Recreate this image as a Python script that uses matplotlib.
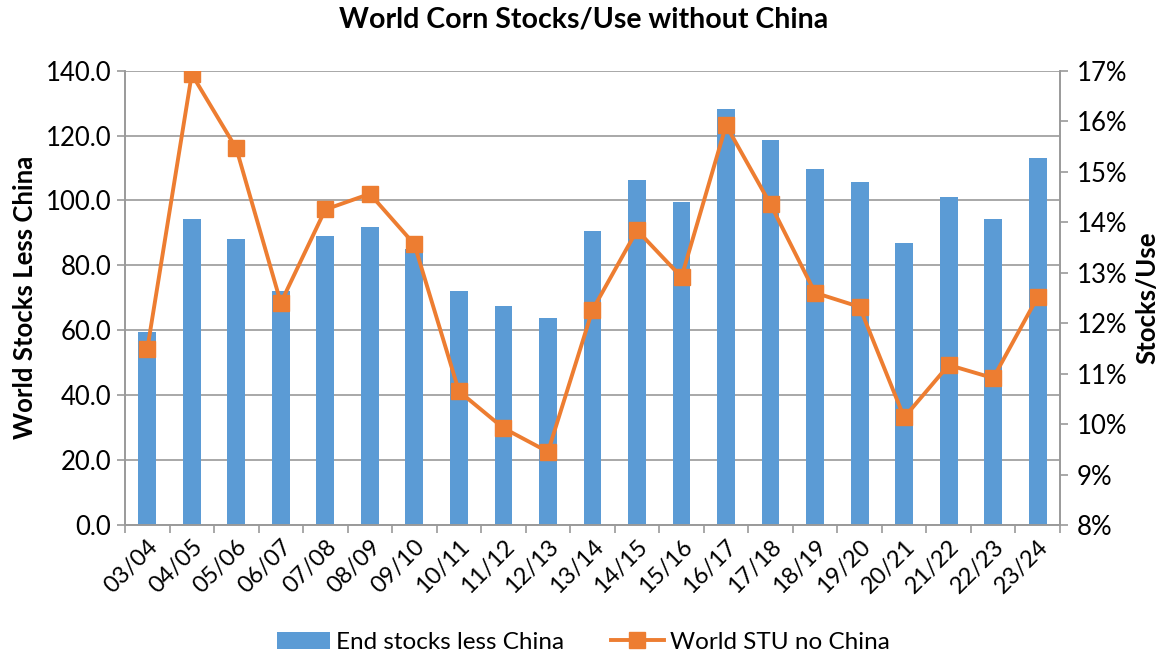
import matplotlib
matplotlib.use("Agg")
import matplotlib.pyplot as plt
from matplotlib.ticker import FuncFormatter, MultipleLocator, FixedLocator

plt.rcParams['font.family'] = ['Lato', 'DejaVu Sans']

seasons = ["03/04", "04/05", "05/06", "06/07", "07/08", "08/09", "09/10",
           "10/11", "11/12", "12/13", "13/14", "14/15", "15/16", "16/17",
           "17/18", "18/19", "19/20", "20/21", "21/22", "22/23", "23/24"]
end_stocks = [59.6, 94.3, 88.0, 72.1, 89.2, 91.7, 85.0,
              72.1, 67.4, 63.7, 90.6, 106.3, 99.6, 128.2,
              118.6, 109.6, 105.6, 86.9, 101.2, 94.3, 113.2]
stu_pct = [11.48, 16.93, 15.46, 12.40, 14.25, 14.56, 13.56,
           10.65, 9.92, 9.45, 12.26, 13.84, 12.91, 15.92,
           14.35, 12.60, 12.32, 10.13, 11.17, 10.91, 12.52]

BLUE = "#5B9BD5"
ORANGE = "#ED7D31"
GRID = "#9A9A9A"

fig = plt.figure(figsize=(11.67, 6.58), dpi=100)
ax = fig.add_axes([0.1071, 0.2021, 0.8012, 0.6905])
ax2 = ax.twinx()

x = list(range(len(seasons)))
bars = ax.bar(x, end_stocks, width=0.4, color=BLUE, zorder=2,
              label="End stocks less China")
line, = ax2.plot(x, stu_pct, color=ORANGE, lw=2.8, marker="s", ms=12,
                 zorder=3, label="World STU no China")

ax.set_xlim(-0.5, len(seasons) - 0.5)
ax.set_ylim(0, 140)
ax.yaxis.set_major_locator(MultipleLocator(20))
ax.yaxis.set_major_formatter(FuncFormatter(lambda v, p: f"{v:.1f}"))
ax.grid(axis="y", color=GRID, lw=1.2, zorder=0)
ax.set_axisbelow(True)

ax2.set_ylim(8, 17)
ax2.yaxis.set_major_locator(MultipleLocator(1))
ax2.yaxis.set_major_formatter(FuncFormatter(lambda v, p: f"{v:.0f}%"))

# category ticks sit between bars; labels sit under the bars
ax.xaxis.set_major_locator(FixedLocator([i - 0.5 for i in range(len(seasons) + 1)]))
ax.xaxis.set_minor_locator(FixedLocator(x))
ax.set_xticklabels([])
ax.set_xticklabels(seasons, minor=True, rotation=45, ha="right",
                   rotation_mode="anchor", fontsize=17)
ax.tick_params(axis="x", which="major", length=6, color=GRID, width=1.2)
ax.tick_params(axis="x", which="minor", length=0, pad=8)
ax.tick_params(axis="y", length=6, color=GRID, width=1.2, labelsize=18.5, pad=4)
ax2.tick_params(axis="y", length=6, color=GRID, width=1.2, labelsize=18.5, pad=6)

for a in (ax, ax2):
    a.spines["top"].set_visible(False)
    for s in ("left", "right", "bottom"):
        a.spines[s].set_color(GRID)
        a.spines[s].set_linewidth(1.2)

ax.set_ylabel("World Stocks Less China", fontsize=18.5, fontweight="bold", labelpad=6)
ax2.set_ylabel("Stocks/Use", fontsize=18.5, fontweight="bold", labelpad=6)

fig.suptitle("World Corn Stocks/Use without China", fontsize=20.5,
             fontweight="bold", x=0.5, y=0.99)

fig.legend(handles=[bars, line], loc="lower center", ncol=2, frameon=False,
           fontsize=17.5, bbox_to_anchor=(0.5, -0.025), handlelength=2.2,
           handletextpad=0.25, columnspacing=1.9)

fig.savefig("out.png", dpi=100)
